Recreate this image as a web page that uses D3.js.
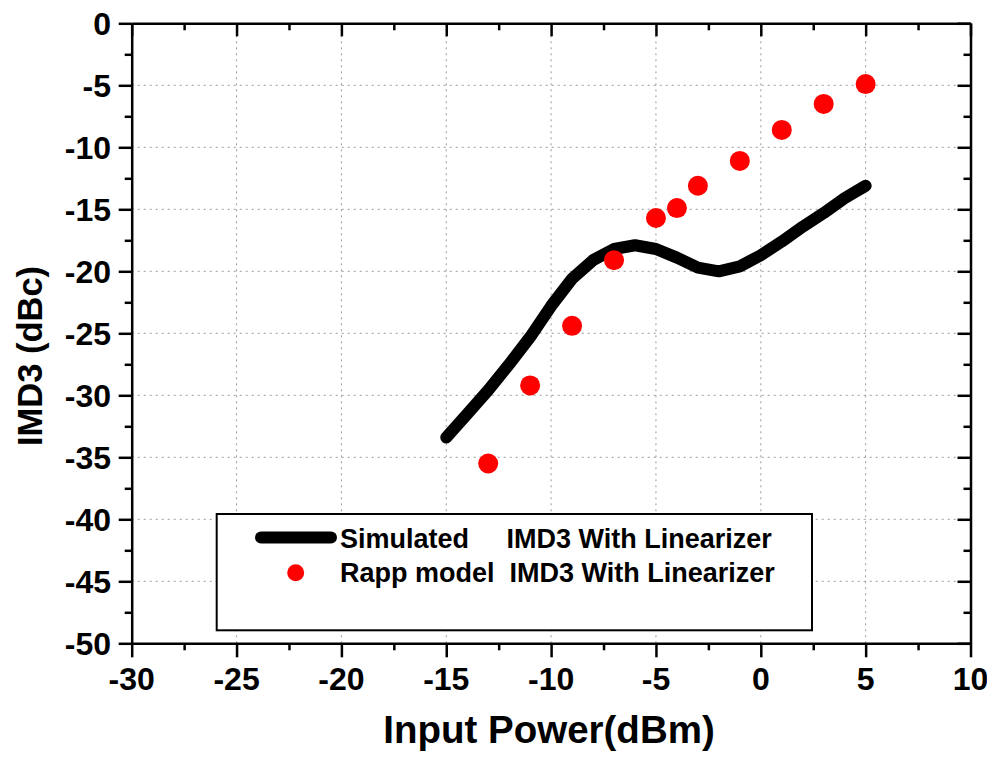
<!DOCTYPE html>
<html>
<head>
<meta charset="utf-8">
<script src="https://cdn.jsdelivr.net/npm/d3@7"></script>
<style>
  body { margin: 0; background: #fff; }
  text { font-family: "Liberation Sans", Arial, sans-serif; font-weight: bold; fill: #000; }
</style>
</head>
<body>
<svg id="chart" width="987" height="761"></svg>
<script>
// simulated IMD3 with linearizer (black line)
const simX = [-15, -14, -13, -12, -11, -10, -9, -8, -7, -6, -5, -4, -3, -2, -1, 0, 1, 2, 3, 4, 5];
const simY = [-33.4, -31.5, -29.6, -27.5, -25.3, -22.8, -20.6, -19.1, -18.2, -17.9, -18.2, -18.9, -19.7, -20.0, -19.6, -18.7, -17.6, -16.4, -15.3, -14.1, -13.1];

// Rapp model IMD3 with linearizer (red dots)
const rappX = [-13, -11, -9, -7, -5, -4, -3, -1, 1, 3, 5];
const rappY = [-35.5, -29.2, -24.4, -19.1, -15.7, -14.9, -13.1, -11.1, -8.6, -6.5, -4.9];

const xTicks = [-30, -25, -20, -15, -10, -5, 0, 5, 10];
const yTicks = [0, -5, -10, -15, -20, -25, -30, -35, -40, -45, -50];
const legendLabels = ['Simulated     IMD3 With Linearizer', 'Rapp model  IMD3 With Linearizer'];

const svg = d3.select('#chart');
const margin = {left: 131.7, right: 987 - 970.5, top: 23.3, bottom: 761 - 643.3};
const x = d3.scaleLinear().domain([-30, 10]).range([margin.left, 987 - margin.right]);
const y = d3.scaleLinear().domain([-50, 0]).range([761 - margin.bottom, margin.top]);
const [x0, x1] = x.range();
const [y0, y1] = y.range();

// dotted grid at major ticks
const grid = svg.append('g')
  .attr('stroke', '#9a9a9a')
  .attr('stroke-width', 1)
  .attr('stroke-dasharray', '2,4');
grid.selectAll('.gx').data(xTicks.slice(1, -1)).enter().append('line')
  .attr('x1', d => x(d)).attr('x2', d => x(d))
  .attr('y1', y0).attr('y2', y1);
grid.selectAll('.gy').data(yTicks.slice(1, -1)).enter().append('line')
  .attr('y1', d => y(d)).attr('y2', d => y(d))
  .attr('x1', x0).attr('x2', x1);

// axes: bottom/left with outward ticks, top/right mirrored inward
const minorX = d3.range(-30, 10.01, 2.5);
const minorY = d3.range(-50, 0.01, 2.5);
function styleAxis(g) {
  g.selectAll('path.domain').attr('stroke-width', 2.5);
  g.selectAll('.tick line').attr('stroke-width', 2.5);
}

const axBottom = svg.append('g').attr('transform', `translate(0,${y0})`)
  .call(d3.axisBottom(x).tickValues(minorX).tickSize(7).tickFormat('').tickSizeOuter(0));
axBottom.selectAll('.tick line').attr('y2', d => (d % 5 === 0 ? 14 : 7));
styleAxis(axBottom);
axBottom.selectAll('.lab').data(xTicks).enter().append('text')
  .attr('x', d => x(d)).attr('y', 690.5 - y0)
  .attr('text-anchor', 'middle').attr('font-size', 32)
  .text(d => d);

const axLeft = svg.append('g').attr('transform', `translate(${x0},0)`)
  .call(d3.axisLeft(y).tickValues(minorY).tickSize(7).tickFormat('').tickSizeOuter(0));
axLeft.selectAll('.tick line').attr('x2', d => (d % 5 === 0 ? -13 : -7));
styleAxis(axLeft);
axLeft.selectAll('.lab').data(yTicks).enter().append('text')
  .attr('x', 111 - x0).attr('y', d => y(d) + 11.5)
  .attr('text-anchor', 'end').attr('font-size', 32)
  .text(d => d);

const axTop = svg.append('g').attr('transform', `translate(0,${y1})`)
  .call(d3.axisTop(x).tickValues(minorX).tickSize(-7).tickFormat('').tickSizeOuter(0));
axTop.selectAll('.tick line').attr('y2', d => (d % 5 === 0 ? 13 : 7));
styleAxis(axTop);

const axRight = svg.append('g').attr('transform', `translate(${x1},0)`)
  .call(d3.axisRight(y).tickValues(minorY).tickSize(-7).tickFormat('').tickSizeOuter(0));
axRight.selectAll('.tick line').attr('x2', d => (d % 5 === 0 ? -13 : -7));
styleAxis(axRight);

// axis titles
svg.append('text')
  .attr('x', 549).attr('y', 743)
  .attr('text-anchor', 'middle').attr('font-size', 38.5)
  .text('Input Power(dBm)');
svg.append('text')
  .attr('transform', 'translate(42,356) rotate(-90)')
  .attr('text-anchor', 'middle').attr('font-size', 34.5)
  .text('IMD3 (dBc)');

// simulated line
const simData = simX.map((v, i) => ({x: v, y: simY[i]}));
svg.append('path')
  .datum(simData)
  .attr('fill', 'none')
  .attr('stroke', '#000')
  .attr('stroke-width', 12)
  .attr('stroke-linejoin', 'round')
  .attr('stroke-linecap', 'round')
  .attr('d', d3.line().x(d => x(d.x)).y(d => y(d.y)));

// rapp points
const rappData = rappX.map((v, i) => ({x: v, y: rappY[i]}));
svg.selectAll('.rapp').data(rappData).enter().append('circle')
  .attr('class', 'rapp')
  .attr('cx', d => x(d.x)).attr('cy', d => y(d.y))
  .attr('r', 10)
  .attr('fill', '#ff0000');

// legend
const legend = svg.append('g');
legend.append('rect')
  .attr('x', 216.7).attr('y', 514)
  .attr('width', 812 - 216.7).attr('height', 630.3 - 514)
  .attr('fill', '#fff').attr('stroke', '#000').attr('stroke-width', 2);
legend.append('line')
  .attr('x1', 261).attr('x2', 331).attr('y1', 537.5).attr('y2', 537.5)
  .attr('stroke', '#000').attr('stroke-width', 12).attr('stroke-linecap', 'round');
legend.append('circle')
  .attr('cx', 295.7).attr('cy', 572.7).attr('r', 8.5).attr('fill', '#ff0000');
legend.selectAll('.ltxt').data(legendLabels).enter().append('text')
  .attr('x', 340).attr('y', (d, i) => 548 + i * 34)
  .attr('font-size', 27)
  .attr('xml:space', 'preserve')
  .style('white-space', 'pre')
  .text(d => d);
</script>
</body>
</html>
